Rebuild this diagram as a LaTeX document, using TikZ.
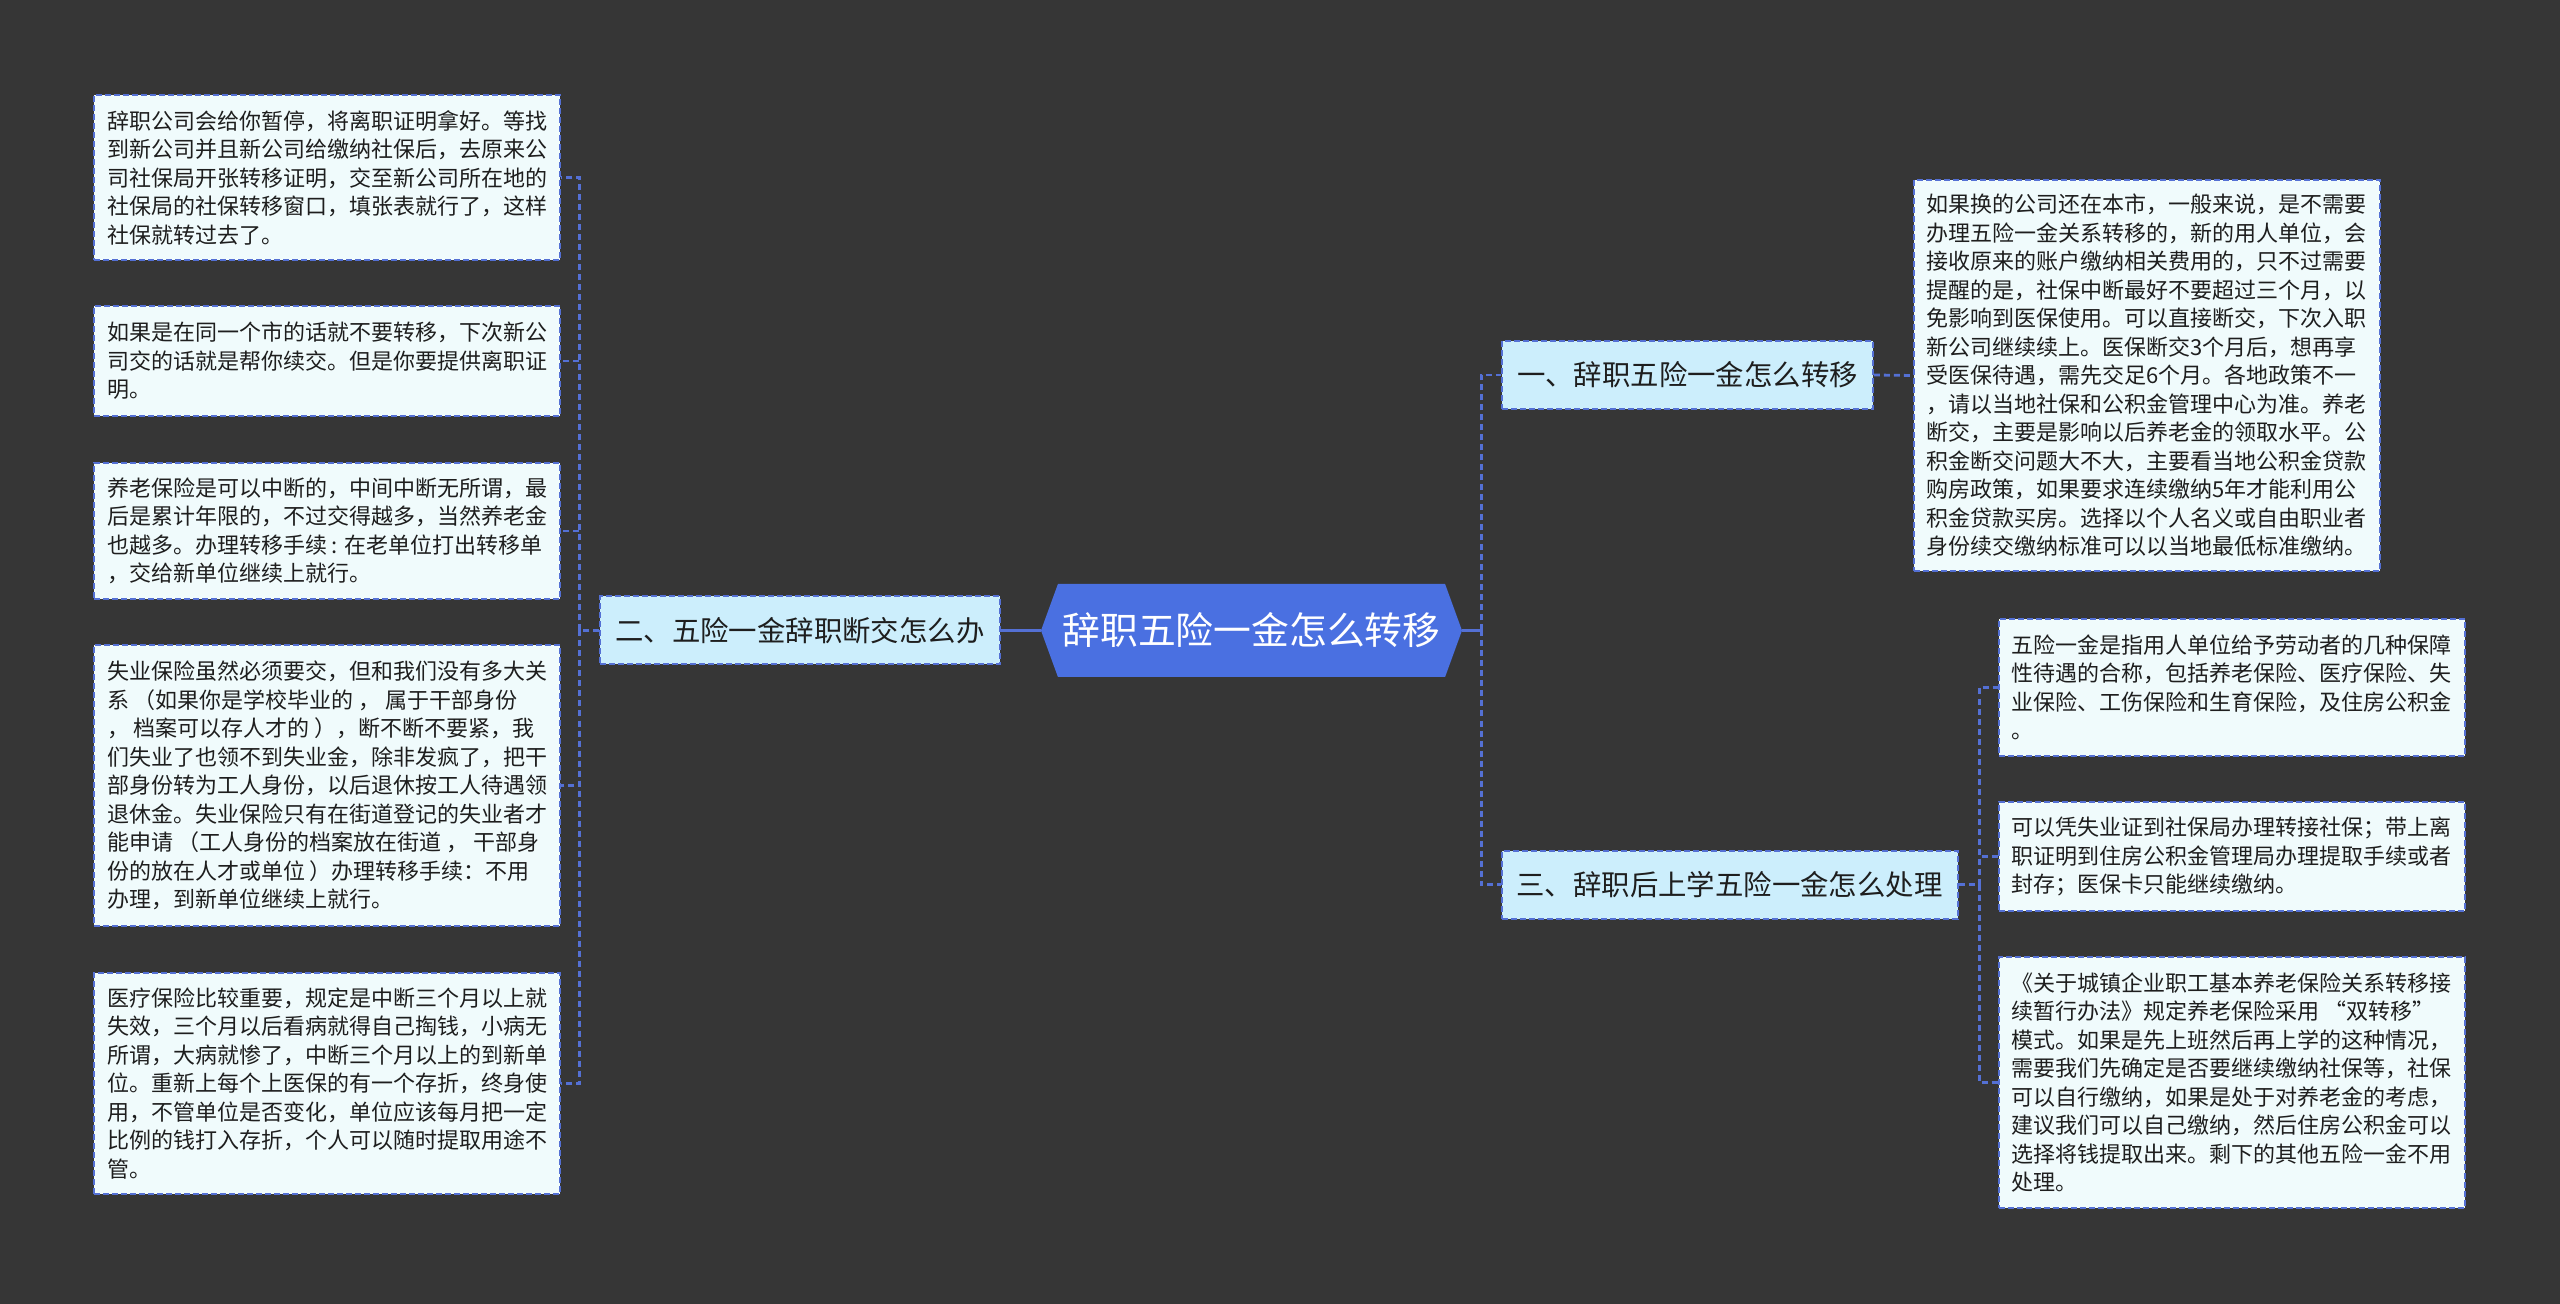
\documentclass[tikz,border=0pt]{standalone}
\usepackage{fontspec}
\setmainfont{Noto Sans CJK SC}
\usepackage{tikz}
\usetikzlibrary{positioning,shapes.symbols}
\definecolor{bgdark}{RGB}{54,54,54}
\definecolor{linkblue}{RGB}{84,112,212}
\definecolor{rootblue}{RGB}{74,112,225}
\definecolor{topicfill}{RGB}{204,238,252}
\definecolor{leaffill}{RGB}{240,251,252}
\definecolor{textdark}{RGB}{30,30,30}

\begin{document}
\begin{tikzpicture}[x=0.5pt,y=-0.5pt,node distance=20pt,
    link/.style={draw=linkblue,line width=1.4pt,dash pattern=on 3pt off 2pt},
    trunk/.style={draw=linkblue,line width=1.6pt},
    root/.style={signal,signal to=west and east,signal pointer angle=140,fill=rootblue,text=white,font=\fontsize{18.9}{22}\selectfont,minimum width=210.5pt,minimum height=46.5pt,inner sep=0pt},
    topic/.style={rectangle,draw=linkblue,line width=1pt,dash pattern=on 3pt off 1.5pt,fill=topicfill,text=textdark,font=\fontsize{14.2}{17}\selectfont,minimum height=34pt,inner xsep=7.5pt},
    leaf/.style={rectangle,draw=linkblue,line width=1pt,dash pattern=on 3pt off 1.5pt,fill=leaffill,text=textdark,align=left,font=\fontsize{11}{14.25}\selectfont,minimum width=233pt,inner xsep=5.5pt}]

    \useasboundingbox (0,0) rectangle (2560,1304);
    \fill[bgdark] (0,0) rectangle (2560,1304);

    \node[root] (root) at (1251.5,630.5) {辞职五险一金怎么转移};
    \node[topic,left=20pt of root] (two) {二、五险一金辞职断交怎么办};
    \node[topic] (one) at (1687.5,375) {一、辞职五险一金怎么转移};
    \node[topic] (three) at (1729.5,884.5) {三、辞职后上学五险一金怎么处理};

    % left side
    \node[leaf,minimum height=82.5pt] (l1) at (327,177.5) {辞职公司会给你暂停，将离职证明拿好。等找\\到新公司并且新公司给缴纳社保后，去原来公\\司社保局开张转移证明，交至新公司所在地的\\社保局的社保转移窗口，填张表就行了，这样\\社保就转过去了。};
    \node[leaf,minimum height=55pt] (l2) at (327,361) {如果是在同一个市的话就不要转移，下次新公\\司交的话就是帮你续交。但是你要提供离职证\\明。};
    \node[leaf,minimum height=68pt] (l3) at (327,531) {养老保险是可以中断的，中间中断无所谓，最\\后是累计年限的，不过交得越多，当然养老金\\也越多。办理转移手续 : 在老单位打出转移单\\，交给新单位继续上就行。};
    \node[leaf,minimum height=140.5pt] (l4) at (327,785.5) {失业保险虽然必须要交，但和我们没有多大关\\系 （如果你是学校毕业的 ， 属于干部身份\\， 档案可以存人才的 ），断不断不要紧，我\\们失业了也领不到失业金，除非发疯了，把干\\部身份转为工人身份，以后退休按工人待遇领\\退休金。失业保险只有在街道登记的失业者才\\能申请 （工人身份的档案放在街道 ， 干部身\\份的放在人才或单位 ）办理转移手续：不用\\办理，到新单位继续上就行。};
    \node[leaf,minimum height=110.5pt] (l5) at (327,1083.5) {医疗保险比较重要，规定是中断三个月以上就\\失效，三个月以后看病就得自己掏钱，小病无\\所谓，大病就惨了，中断三个月以上的到新单\\位。重新上每个上医保的有一个存折，终身使\\用，不管单位是否变化，单位应该每月把一定\\比例的钱打入存折，个人可以随时提取用途不\\管。};

    % right side
    \node[leaf,minimum height=195.5pt] (r1) at (2146.5,375.5) {如果换的公司还在本市，一般来说，是不需要\\办理五险一金关系转移的，新的用人单位，会\\接收原来的账户缴纳相关费用的，只不过需要\\提醒的是，社保中断最好不要超过三个月，以\\免影响到医保使用。可以直接断交，下次入职\\新公司继续续上。医保断交3个月后，想再享\\受医保待遇，需先交足6个月。各地政策不一\\，请以当地社保和公积金管理中心为准。养老\\断交，主要是影响以后养老金的领取水平。公\\积金断交问题大不大，主要看当地公积金贷款\\购房政策，如果要求连续缴纳5年才能利用公\\积金贷款买房。选择以个人名义或自由职业者\\身份续交缴纳标准可以以当地最低标准缴纳。};
    \node[leaf,minimum height=68.5pt] (r2) at (2231.5,687.5) {五险一金是指用人单位给予劳动者的几种保障\\性待遇的合称，包括养老保险、医疗保险、失\\业保险、工伤保险和生育保险，及住房公积金\\。};
    \node[leaf,minimum height=54.5pt] (r3) at (2231.5,856.5) {可以凭失业证到社保局办理转接社保；带上离\\职证明到住房公积金管理局办理提取手续或者\\封存；医保卡只能继续缴纳。};
    \node[leaf,minimum height=125.5pt] (r4) at (2231.5,1082.5) {《关于城镇企业职工基本养老保险关系转移接\\续暂行办法》规定养老保险采用 “双转移”\\模式。如果是先上班然后再上学的这种情况，\\需要我们先确定是否要继续缴纳社保等，社保\\可以自行缴纳，如果是处于对养老金的考虑，\\建议我们可以自己缴纳，然后住房公积金可以\\选择将钱提取出来。剩下的其他五险一金不用\\处理。};

    % connectors
    \draw[trunk] (root.west) -- (two.east);
    \draw[trunk] (root.east) -- ++(19,0) coordinate (rbus);
    \foreach \t in {one,three}
        \draw[link] (rbus) |- (\t.west);
    \draw[link] (two.west) -- ++(-20,0) coordinate (lbus);
    \foreach \l in {l1,l2,l3,l4,l5}
        \draw[link] (lbus) |- (\l.east);
    \draw[link] (one.east) -- (r1.west);
    \draw[link] (three.east) -- ++(21,0) coordinate (tbus);
    \foreach \r in {r2,r3,r4}
        \draw[link] (tbus) |- (\r.west);
\end{tikzpicture}
\end{document}
